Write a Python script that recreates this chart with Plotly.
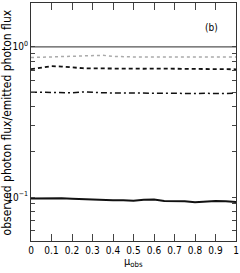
import plotly.graph_objects as go

mu = [0.0, 0.05, 0.1, 0.15, 0.2, 0.25, 0.3, 0.35, 0.4, 0.45, 0.5,
      0.55, 0.6, 0.65, 0.7, 0.75, 0.8, 0.85, 0.9, 0.95, 1.0]
unity = [1.0] * 21
dotted_vals = [0.850, 0.853, 0.856, 0.860, 0.864, 0.870, 0.878, 0.880, 0.866, 0.860, 0.858,
               0.858, 0.859, 0.858, 0.858, 0.858, 0.859, 0.858, 0.858, 0.857, 0.856]
dashed_vals = [0.712, 0.730, 0.745, 0.740, 0.728, 0.722, 0.720, 0.718, 0.720, 0.716, 0.714,
               0.716, 0.718, 0.716, 0.714, 0.712, 0.710, 0.712, 0.710, 0.708, 0.710]
dashdot_vals = [0.500, 0.498, 0.496, 0.494, 0.495, 0.502, 0.497, 0.495, 0.494, 0.493, 0.492,
                0.493, 0.492, 0.491, 0.492, 0.491, 0.490, 0.491, 0.490, 0.489, 0.494]
solid_vals = [0.0976, 0.0980, 0.0985, 0.0980, 0.0973, 0.0966, 0.0960, 0.0956, 0.0953, 0.0950, 0.0946,
              0.0958, 0.0962, 0.0942, 0.0939, 0.0936, 0.0922, 0.0930, 0.0940, 0.0936, 0.0926]

x_ticks = [0, 0.1, 0.2, 0.3, 0.4, 0.5, 0.6, 0.7, 0.8, 0.9, 1]
x_labels = ["0", "0.1", "0.2", "0.3", "0.4", "0.5", "0.6", "0.7", "0.8", "0.9", "1"]
y_ticks = [0.06, 0.07, 0.08, 0.09, 0.1, 0.2, 0.3, 0.4, 0.5, 0.6, 0.7, 0.8, 0.9, 1.0]
y_labels = ["", "", "", "", "10<sup>−1</sup>", "", "", "", "", "", "", "", "", "10<sup>0</sup>"]

FONT = "Liberation Sans Narrow, DejaVu Sans Condensed, Liberation Sans, Arial"

fig = go.Figure()
fig.add_trace(go.Scatter(x=mu, y=unity, mode="lines", line=dict(color="#555555", width=1.2)))
fig.add_trace(go.Scatter(x=mu, y=dotted_vals, mode="lines", line=dict(color="#aaaaaa", width=1.5, dash="dot")))
fig.add_trace(go.Scatter(x=mu, y=dashed_vals, mode="lines", line=dict(color="#111111", width=1.8, dash="4px,3px")))
fig.add_trace(go.Scatter(x=mu, y=dashdot_vals, mode="lines", line=dict(color="#111111", width=1.5, dash="6px,3px,2px,3px")))
fig.add_trace(go.Scatter(x=mu, y=solid_vals, mode="lines", line=dict(color="#111111", width=2)))

fig.update_layout(
    width=240, height=273,
    margin=dict(l=31, r=4, t=3, b=32),
    paper_bgcolor="white", plot_bgcolor="white",
    showlegend=False, hovermode=False, dragmode=False,
    font=dict(family=FONT, size=10, color="black"),
    xaxis=dict(range=[0, 1], tickvals=x_ticks, ticktext=x_labels, ticks="inside", ticklen=7,
               tickcolor="#444", showgrid=False, zeroline=False, showline=True, linecolor="#333",
               linewidth=1, mirror="ticks", automargin=False, tickangle=0, fixedrange=True),
    yaxis=dict(type="log", range=[-1.293, 0.293], tickvals=y_ticks, ticktext=y_labels,
               ticks="inside", ticklen=4, tickcolor="#444", showgrid=False, zeroline=False,
               showline=True, linecolor="#333", linewidth=1, mirror="ticks", automargin=False,
               fixedrange=True),
    annotations=[
        dict(text="(b)", x=0.92, y=0.93, xref="paper", yref="paper", showarrow=False,
             font=dict(size=10, family=FONT, color="black")),
        dict(text="μ<sub>obs</sub>", x=0.5, y=-0.09, xref="paper", yref="paper", showarrow=False,
             xanchor="center", yanchor="middle", font=dict(size=11, family=FONT, color="black")),
        dict(text="observed photon flux/emitted photon flux", x=-0.115, y=0.5, xref="paper",
             yref="paper", showarrow=False, textangle=-90, xanchor="center", yanchor="middle",
             font=dict(size=12, family=FONT, color="black")),
    ],
)
fig.write_html("out.html", config={"displayModeBar": False, "staticPlot": True},
               post_script="document.body.style.margin='0';")
